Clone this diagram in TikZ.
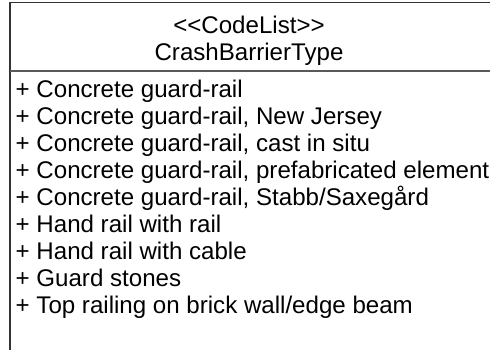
\documentclass[tikz,border=0pt]{standalone}
\usepackage{fontspec}
\setmainfont{Liberation Sans}
\usepackage{tikz}

\tikzset{
  umltext/.style={inner sep=0pt, font=\fontsize{24.1}{27}\selectfont},
  umlline/.style={draw=black!80, line width=1.1pt}
}

\begin{document}
\begin{tikzpicture}[x=1pt,y=-1pt]
  \pgfmathsetmacro{\rowh}{27}
  \pgfmathsetmacro{\first}{97.5}
  \useasboundingbox (0,0) rectangle (490,349);
  \clip (0,0) rectangle (490,349);

  % class box, running past the right and bottom edges
  \coordinate (tl) at (10,2.5);
  \coordinate (tr) at (500,2.5);
  \coordinate (bl) at (10,360);
  \coordinate (dl) at (10,71);
  \coordinate (dr) at (500,71);
  \draw[umlline] (tr) -- (tl) -- (bl);
  \draw[umlline,draw=black!65] (dl) -- (dr);

  \node[umltext,anchor=base] (stereo) at (249,33.3) {<\kern0pt<CodeList>\kern0pt>};
  \node[umltext,anchor=base] (cname) at (249,60) {CrashBarrierType};

  \foreach \lbl [count=\i] in {{Concrete guard-rail},
      {Concrete guard-rail, New Jersey},
      {Concrete guard-rail, cast in situ},
      {Concrete guard-rail, prefabricated element},
      {Concrete guard-rail, Stabb/Saxegård},
      {Hand rail with rail},
      {Hand rail with cable},
      {Guard stones},
      {Top railing on brick wall/edge beam}}{
    \node[umltext,anchor=base west] (attr\i) at (15.5,\first+\i*\rowh-\rowh) {+ \lbl};
  }
\end{tikzpicture}
\end{document}
